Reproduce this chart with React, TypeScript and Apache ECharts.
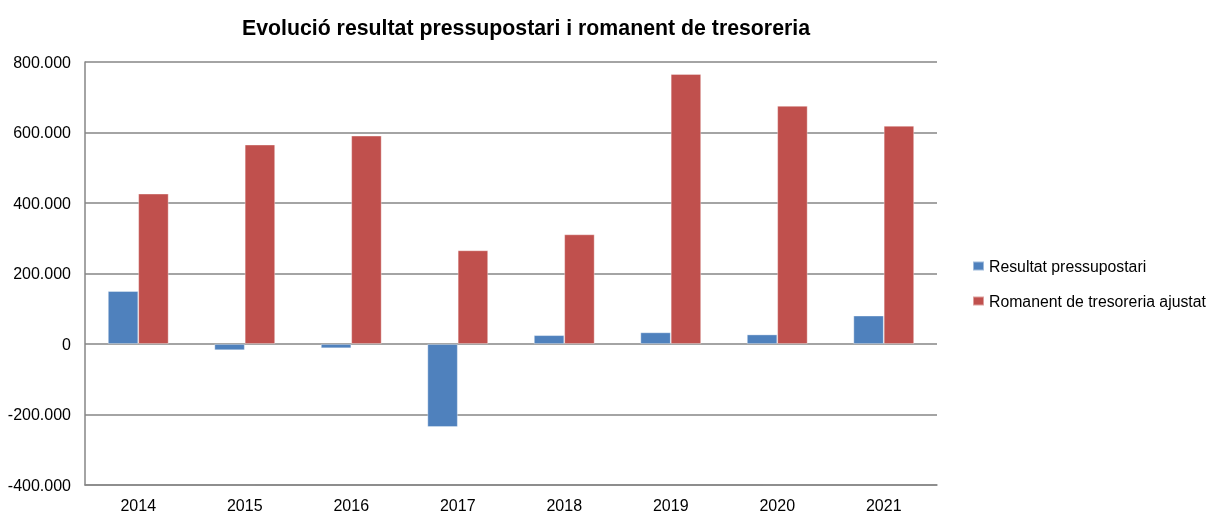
import React, { useEffect, useRef } from "react";
import * as echarts from "echarts";

const years = ["2014", "2015", "2016", "2017", "2018", "2019", "2020", "2021"];
const resultat = [150000, -17500, -12000, -235500, 25000, 33000, 27000, 80500];
const romanent = [426500, 565600, 591000, 265700, 311000, 766000, 675600, 619000];
const seriesNames = ["Resultat pressupostari", "Romanent de tresoreria ajustat"];
const titleText = "Evolució resultat pressupostari i romanent de tresoreria";

const fmt = (v: number) => {
  const s = Math.abs(v).toString().replace(/\B(?=(\d{3})+(?!\d))/g, ".");
  return (v < 0 ? "-" : "") + s;
};

export default function App() {
  const ref = useRef<HTMLDivElement>(null);
  useEffect(() => {
    if (!ref.current) return;
    const chart = echarts.init(ref.current, null, { renderer: "svg" });
    const font = "Liberation Sans, Arial, sans-serif";
    chart.setOption({
      animation: false,
      textStyle: { fontFamily: font },
      title: {
        text: titleText,
        left: 521,
        textAlign: "center",
        top: 12,
        textStyle: { fontSize: 21.3, fontWeight: "bold", color: "#000", fontFamily: font },
      },
      legend: {
        orient: "vertical",
        left: 972,
        top: 258,
        padding: 0,
        itemWidth: 11,
        itemHeight: 9,
        itemGap: 19,
        icon: "rect",
        textStyle: { fontSize: 15.8, color: "#000", fontFamily: font },
        data: seriesNames,
      },
      grid: { left: 85, right: 273, top: 62, bottom: 26, containLabel: false },
      xAxis: {
        type: "category",
        data: years,
        axisLine: { onZero: false, lineStyle: { color: "#868686", width: 1.5 } },
        axisTick: { show: false },
        axisLabel: { fontSize: 16, color: "#000", margin: 12, fontFamily: font },
      },
      yAxis: {
        type: "value",
        min: -400000,
        max: 800000,
        interval: 200000,
        axisLine: { show: true, lineStyle: { color: "#868686", width: 1.5 } },
        axisTick: { show: false },
        splitLine: { lineStyle: { color: "#868686", width: 1.5 } },
        axisLabel: { fontSize: 16, color: "#000", margin: 14, formatter: (v: number) => fmt(v), fontFamily: font },
      },
      series: [
        {
          name: seriesNames[0],
          type: "bar",
          data: resultat,
          barGap: "0%",
          barCategoryGap: "43%",
          itemStyle: { color: "#4F81BD", borderColor: "rgba(255,255,255,0.45)", borderWidth: 0.8 },
        },
        {
          name: seriesNames[1],
          type: "bar",
          data: romanent,
          barGap: "0%",
          barCategoryGap: "43%",
          itemStyle: { color: "#C0504D", borderColor: "rgba(255,255,255,0.45)", borderWidth: 0.8 },
        },
      ],
    });
    return () => chart.dispose();
  }, []);
  return <div ref={ref} style={{ position: "fixed", left: 0, top: 0, width: 1210, height: 513 }} />;
}
